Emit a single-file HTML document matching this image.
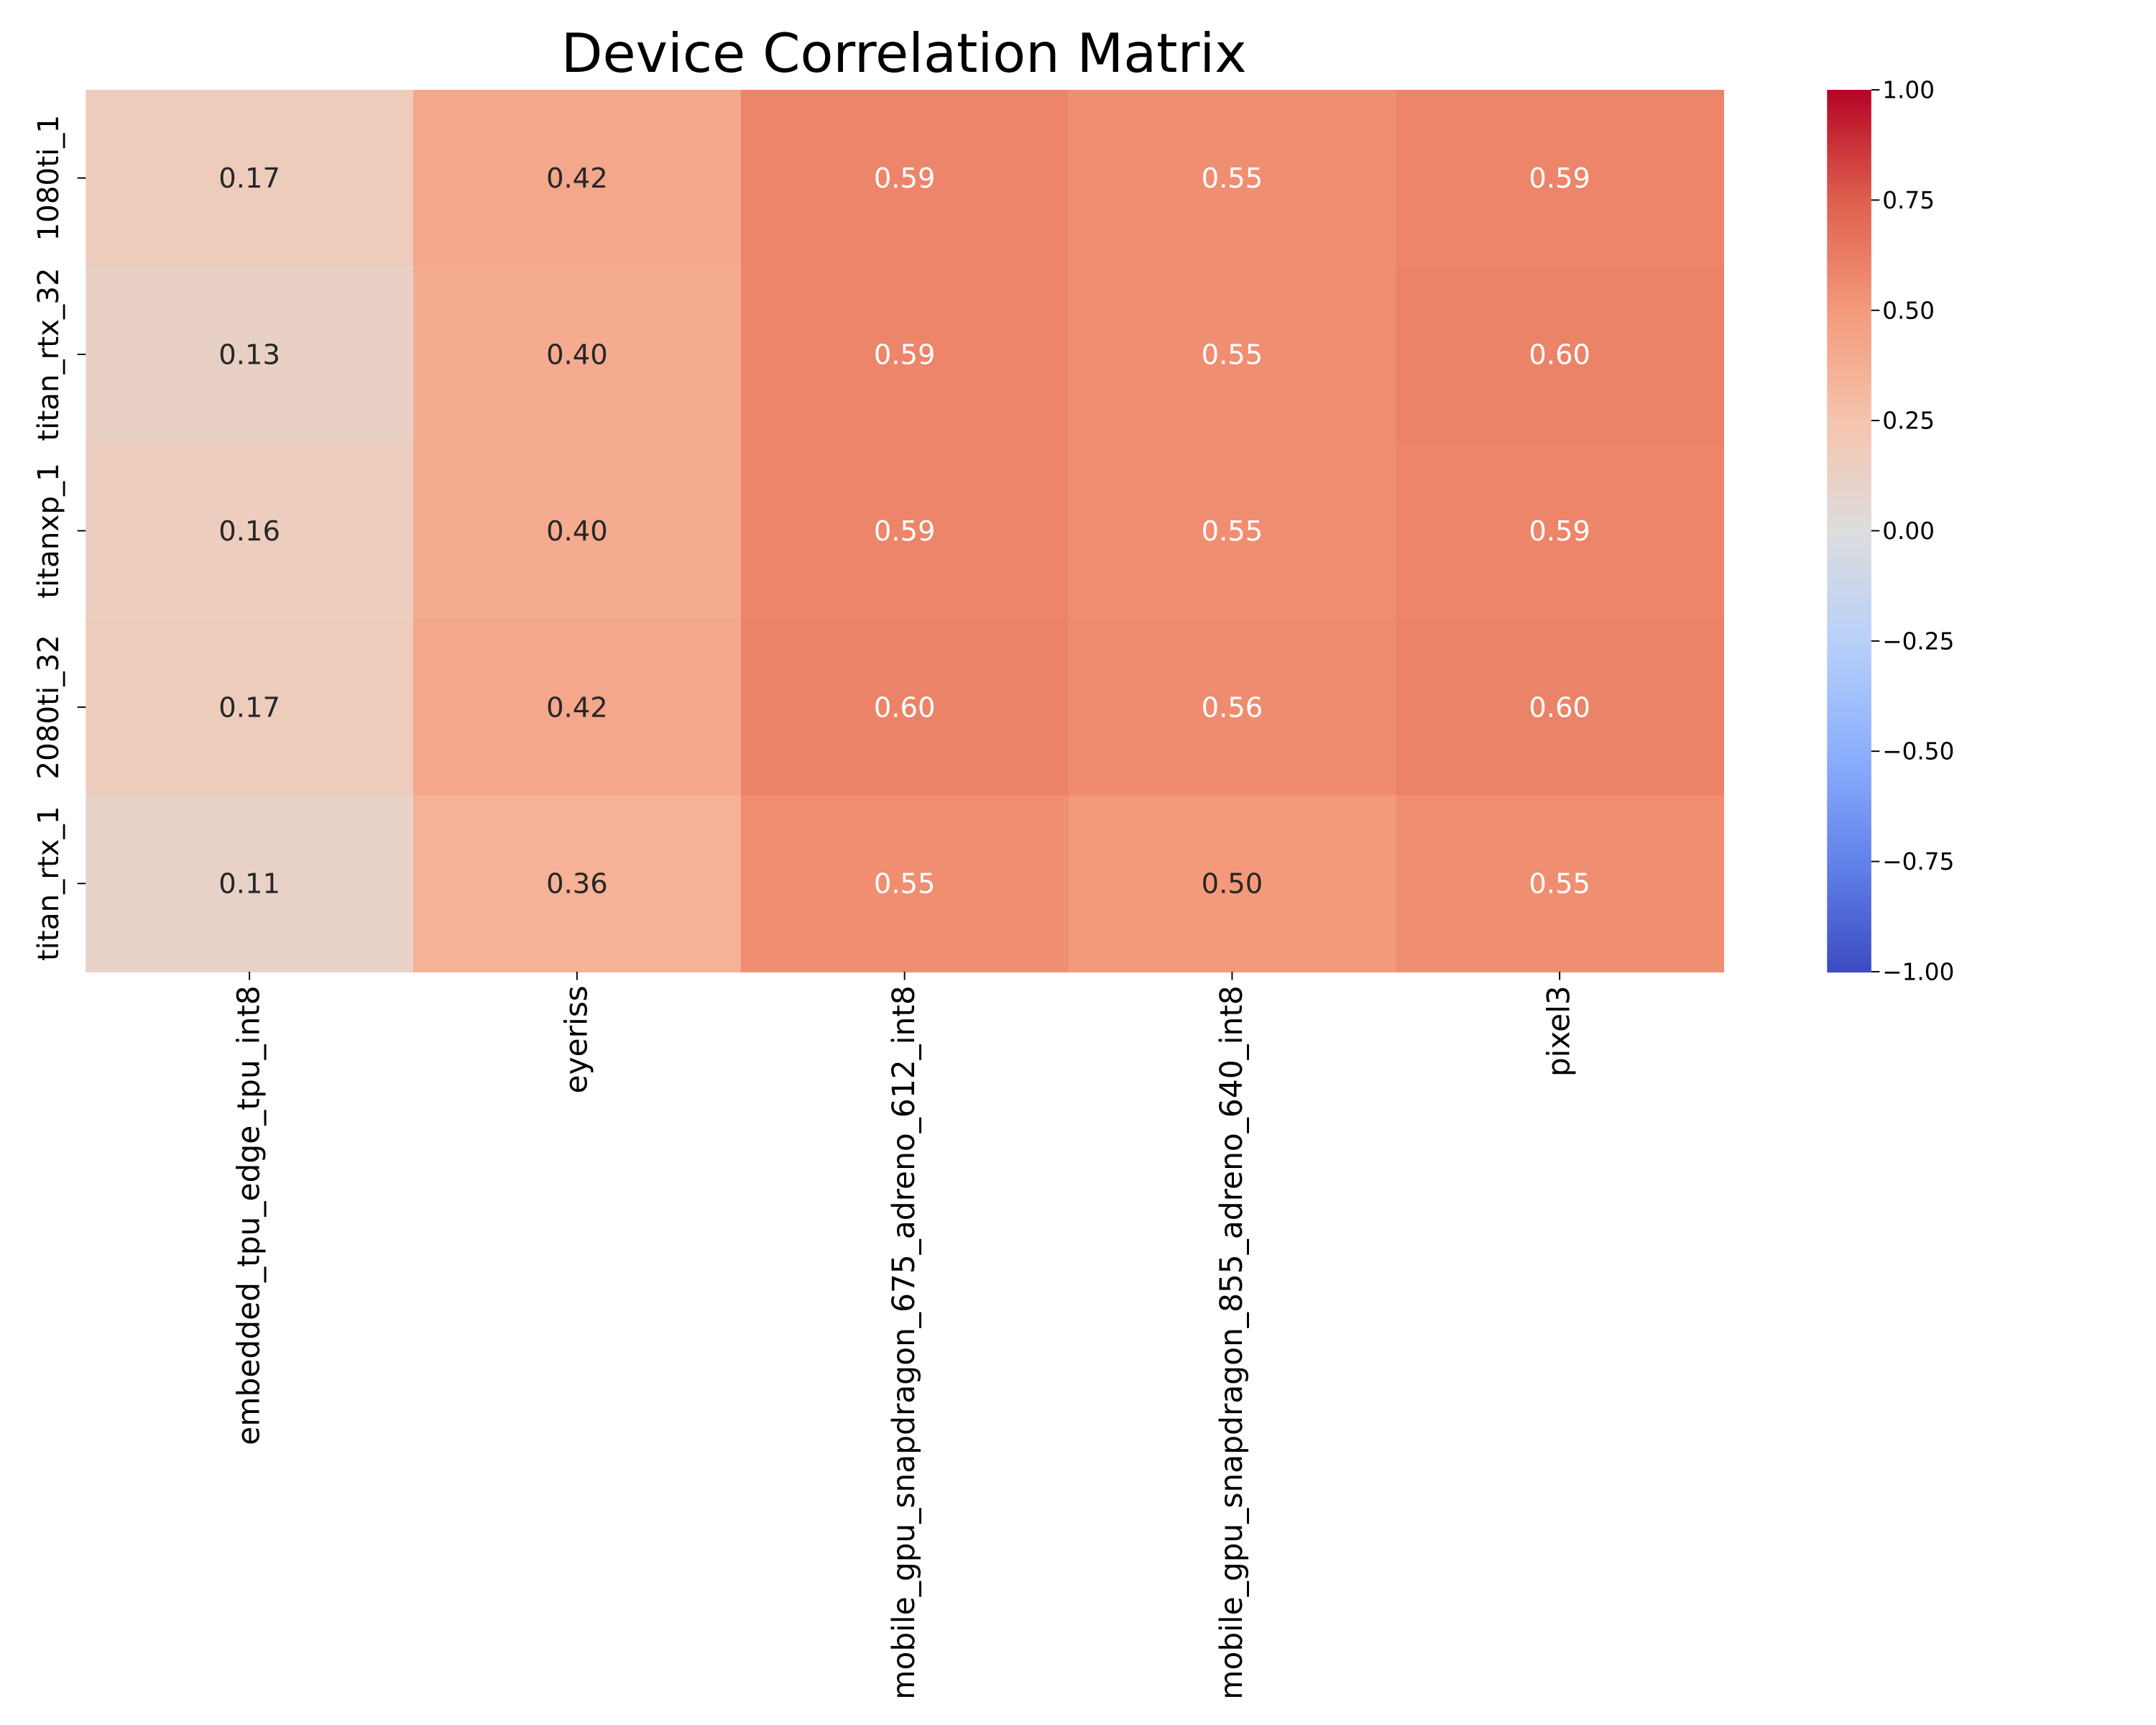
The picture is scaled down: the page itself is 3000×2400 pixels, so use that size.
<!DOCTYPE html>
<html><head><meta charset="utf-8"><style>
html,body{margin:0;padding:0;background:#fff;}
svg{display:block;font-family:"DejaVu Sans","Liberation Sans",sans-serif;}
</style></head><body>
<svg id="chart" width="3000" height="2400" viewBox="0 0 1560 1248" xmlns="http://www.w3.org/2000/svg">
<rect width="1560" height="1248" fill="#fff"/>
<text x="654" y="52" font-size="39" text-anchor="middle" fill="#000">Device Correlation Matrix</text>
<g id="cells"></g><g id="axes"></g><g id="cbar"></g>
</svg>
<script>
const rowLabels = ["1080ti_1","titan_rtx_32","titanxp_1","2080ti_32","titan_rtx_1"];
const colLabels = ["embedded_tpu_edge_tpu_int8","eyeriss","mobile_gpu_snapdragon_675_adreno_612_int8","mobile_gpu_snapdragon_855_adreno_640_int8","pixel3"];
const values = [
 [0.17,0.42,0.59,0.55,0.59],
 [0.13,0.40,0.59,0.55,0.60],
 [0.16,0.40,0.59,0.55,0.59],
 [0.17,0.42,0.60,0.56,0.60],
 [0.11,0.36,0.55,0.50,0.55]
];
const cbarTicks = [1.00,0.75,0.50,0.25,0.00,-0.25,-0.50,-0.75,-1.00];

const NS="http://www.w3.org/2000/svg";
const L=62,R=1247,T=65,B=703;
const cw=(R-L)/colLabels.length, rh=(B-T)/rowLabels.length;
const xPos=j=>L+j*cw, yPos=i=>T+i*rh;
const stops=[[59,76,192],[98,130,234],[141,176,254],[184,208,249],[221,221,221],[245,196,173],[244,154,123],[222,96,77],[180,4,38]];
function cmap(v){let t=(v+1)/2*8;t=Math.max(0,Math.min(8,t));let k=Math.min(7,Math.floor(t)),f=t-k;
 const a=stops[k],b=stops[k+1];return `rgb(${a.map((x,i)=>Math.round(x+(b[i]-x)*f)).join(",")})`;}
function mk(tag,attrs,parent,txt){const e=document.createElementNS(NS,tag);for(const k in attrs)e.setAttribute(k,attrs[k]);if(txt!==undefined)e.textContent=txt;parent.appendChild(e);return e;}
const cells=document.getElementById('cells'),axes=document.getElementById('axes'),cb=document.getElementById('cbar');
values.forEach((row,i)=>row.forEach((v,j)=>{
 const r=mk('rect',{x:xPos(j),y:yPos(i),width:cw+0.5,height:rh+0.5,fill:cmap(v)},cells);
 
 
 const t=mk('text',{x:xPos(j)+cw/2,y:yPos(i)+rh/2+7,'font-size':20,'text-anchor':'middle',fill:v>=0.55?'#fff':'#262626'},cells,v.toFixed(2));
 
 
}));
rowLabels.forEach((lab,i)=>{
 const y=yPos(i)+rh/2;
 mk('line',{x1:L-6,x2:L,y1:y,y2:y,stroke:'#000','stroke-width':1},axes);
 const t=mk('text',{x:0,y:0,'font-size':21,'text-anchor':'middle',transform:`translate(42,${y}) rotate(-90)`,fill:'#000'},axes,lab);
 
 
});
colLabels.forEach((lab,j)=>{
 const x=xPos(j)+cw/2;
 mk('line',{x1:x,x2:x,y1:B,y2:B+6,stroke:'#000','stroke-width':1},axes);
 const t=mk('text',{x:0,y:0,'font-size':22,'text-anchor':'end',transform:`translate(${x+7},${B+10}) rotate(-90)`,fill:'#000'},axes,lab);
 
 
});
const cx=1322,cwid=32,N=200;
const cbScale=v=>T+(1-v)/2*(B-T);
for(let k=0;k<N;k++){const v=1-2*k/N;
 mk('rect',{x:cx,y:T+k*(B-T)/N,width:cwid,height:(B-T)/N+0.6,fill:cmap(v-1/N)},cb);}
cbarTicks.forEach(v=>{const y=cbScale(v);
 mk('line',{x1:cx+cwid,x2:cx+cwid+6,y1:y,y2:y,stroke:'#000','stroke-width':1},cb);
 const t=mk('text',{x:cx+cwid+8,y:y+6,'font-size':17,fill:'#000'},cb,(v<0?'\u2212':'')+Math.abs(v).toFixed(2));
 
 
});
</script>
</body></html>
